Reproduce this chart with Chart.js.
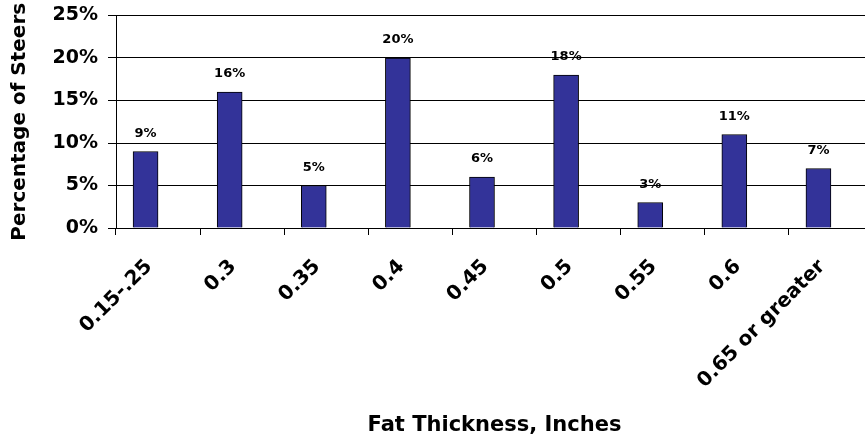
<!DOCTYPE html>
<html lang="en">
<head>
    <meta charset="UTF-8">
    <title>Fat Thickness</title>
    <script src="https://cdn.jsdelivr.net/npm/chart.js"></script>
    <style>
        body {
            margin: 0;
            padding: 0;
            background-color: #fff;
            overflow: hidden;
        }
        /* the plot runs a little past the right and top edges, like the original */
        .chart-container {
            width: 873px;
            height: 447px;
            margin-top: -4px;
        }
    </style>
</head>
<body>
    <div class="chart-container">
        <canvas id="fatChart"></canvas>
    </div>

    <script>
        const categories = ['0.15-.25', '0.3', '0.35', '0.4', '0.45', '0.5', '0.55', '0.6', '0.65 or greater'];
        const percentSteers = [9, 16, 5, 20, 6, 18, 3, 11, 7];
        const emptySlot = [0, 0, 0, 0, 0, 0, 0, 0, 0];
        const yTicks = [0, 5, 10, 15, 20, 25];

        const wideFont = '"DejaVu Sans", sans-serif';

        // draws the % value above each bar
        const barLabels = {
            id: 'barLabels',
            afterDatasetsDraw(chart) {
                const ctx = chart.ctx;
                const meta = chart.getDatasetMeta(0);
                ctx.save();
                ctx.font = 'bold 13px ' + wideFont;
                ctx.fillStyle = '#000';
                ctx.textAlign = 'center';
                ctx.textBaseline = 'alphabetic';
                meta.data.forEach((bar, i) => {
                    ctx.fillText(percentSteers[i] + '%', bar.x, bar.y - 15);
                });
                ctx.restore();
            }
        };

        const fatChart = new Chart(document.getElementById('fatChart'), {
            type: 'bar',
            data: {
                labels: categories,
                datasets: [{
                    data: percentSteers,
                    backgroundColor: '#333399',
                    borderColor: '#000',
                    borderWidth: 1,
                    barThickness: 25
                }, {
                    // empty second slot, Excel left a gap on the right of each bar
                    data: emptySlot,
                    backgroundColor: 'rgba(0,0,0,0)',
                    borderWidth: 0,
                    barThickness: 25
                }]
            },
            options: {
                responsive: true,
                maintainAspectRatio: false,
                animation: false,
                layout: { padding: 0 },
                plugins: {
                    legend: { display: false },
                    tooltip: { enabled: false }
                },
                scales: {
                    x: {
                        afterFit(scale) { scale.height = 215; },
                        grid: {
                            drawOnChartArea: false,
                            color: '#000',
                            tickLength: 7,
                            offset: true
                        },
                        border: { color: '#000', width: 1 },
                        ticks: {
                            color: '#000',
                            minRotation: 45,
                            maxRotation: 45,
                            padding: 20,
                            labelOffset: -9,
                            font: { family: wideFont, size: 20, weight: 'bold' }
                        },
                        title: {
                            display: true,
                            text: 'Fat Thickness, Inches',
                            color: '#000',
                            padding: { top: 0, bottom: 5 },
                            font: { family: wideFont, size: 21, weight: 'bold' }
                        }
                    },
                    y: {
                        min: 0,
                        max: 25,
                        afterFit(scale) { scale.width = 116; },
                        afterBuildTicks(scale) {
                            scale.ticks = yTicks.map(v => ({ value: v }));
                        },
                        grid: {
                            color: '#000',
                            tickLength: 8
                        },
                        border: { color: '#000', width: 1 },
                        ticks: {
                            color: '#000',
                            padding: 10,
                            callback: v => v + '%',
                            font: { family: wideFont, size: 19, weight: 'bold', lineHeight: 1 }
                        },
                        title: {
                            display: true,
                            text: 'Percentage of Steers',
                            color: '#000',
                            padding: { top: 8, bottom: 0 },
                            font: { family: wideFont, size: 20, weight: 'bold' }
                        }
                    }
                }
            },
            plugins: [barLabels]
        });
    </script>
</body>
</html>
